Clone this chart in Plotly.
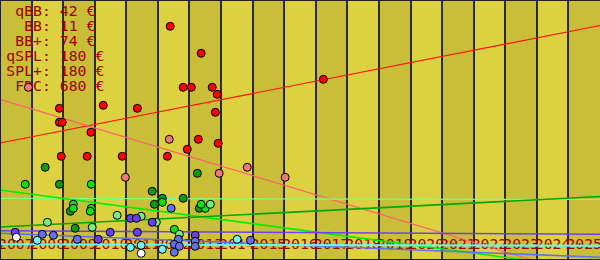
import plotly.graph_objects as go

# ---------------- data ----------------
years = list(range(2007, 2026))

legend_names = ["qBB", "BB", "BB+", "qSPL", "SPL+", "FDC"]
legend_prices = [42, 11, 74, 180, 180, 680]

red_x = [2012.39, 2013.37, 2012.80, 2013.06, 2013.72, 2013.88, 2017.24, 2008.88, 2010.27, 2011.35,
         2008.88, 2008.97, 2009.88, 2013.28, 2008.94, 2009.76, 2010.87, 2012.30, 2012.93, 2013.82, 2013.91]
red_y = [23.37, 20.67, 17.27, 17.27, 17.27, 16.57, 18.07, 15.17, 15.47, 15.17,
         13.77, 13.77, 12.77, 12.07, 10.37, 10.37, 10.37, 10.37, 11.07, 14.77, 11.67]

pink_x = [2012.36, 2010.97, 2013.94, 2014.83, 2016.03, 2007.90]
pink_y = [12.07, 8.27, 8.67, 9.27, 8.27, 17.27]

dkgreen_x = [2008.43, 2013.25, 2008.88, 2011.82, 2012.80, 2012.14, 2011.89, 2013.31, 2009.23, 2009.38]
dkgreen_y = [9.27, 8.67, 7.57, 6.87, 6.17, 6.17, 5.57, 5.17, 4.87, 3.17]

lime_x = [2007.80, 2009.89, 2009.32, 2009.32, 2009.89, 2009.86, 2012.14, 2013.50, 2013.37, 2012.52]
lime_y = [7.57, 7.57, 5.57, 5.17, 5.17, 4.87, 5.77, 5.17, 5.57, 3.07]

ltgreen_x = [2010.71, 2011.47, 2011.95, 2008.50, 2009.92, 2012.68, 2013.66]
ltgreen_y = [4.47, 4.37, 3.77, 3.77, 3.27, 2.57, 5.57]

violet_x = [2007.48, 2010.11, 2010.49, 2011.13, 2011.32, 2011.35, 2011.82, 2013.18]
violet_y = [2.77, 2.07, 2.77, 4.17, 4.17, 2.77, 3.77, 2.47]

slate_x = [2008.34, 2008.69, 2009.45, 2012.42, 2012.65, 2012.52, 2012.68, 2013.18, 2013.18, 2012.52, 2014.93]
slate_y = [2.57, 2.47, 2.07, 5.17, 2.07, 1.57, 1.37, 1.87, 1.37, 0.77, 1.97]

cyan_x = [2008.18, 2011.13, 2011.47, 2012.14, 2014.51]
cyan_y = [1.97, 1.27, 1.47, 1.07, 2.07]

white_x = [2007.52, 2011.47]
white_y = [2.27, 0.67]

# trend lines: values at start (2007) and end (2026)
trend_x = [2007, 2026]
trend_red = [11.70, 23.45]
trend_salmon = [16.07, -2.05]
trend_ltgreen = [6.17, 6.05]
trend_lime = [7.00, -1.00]
trend_dkgreen = [3.30, 6.35]
trend_violet = [2.93, 2.57]
trend_slate = [2.67, 0.27]
trend_cyan = [1.57, 1.42]

# ---------------- styles ----------------
TXT = "#a00000"
FONT = "DejaVu Sans Mono"
FS = 14.8
BAND_DARK = "#c9be37"
BAND_LIGHT = "#dcd23f"

fig = go.Figure()

# legend text (drawn first so that marks sit on top)
label_w = max(len(n) for n in legend_names) + 1
legend_txt = [("\u00a0" * (label_w - len(n) - 1)) + n + ":\u00a0" + str(p) + "\u00a0€"
              for n, p in zip(legend_names, legend_prices)]
fig.add_trace(go.Scatter(
    x=[2007.20] * len(legend_txt),
    y=[24.75 - 1.5 * i for i in range(len(legend_txt))],
    mode="text", text=legend_txt, textposition="middle right",
    textfont=dict(family=FONT, size=FS, color=TXT),
    hoverinfo="skip", showlegend=False, cliponaxis=False))

# year labels
fig.add_trace(go.Scatter(
    x=[y + 0.5 for y in years], y=[1.42] * len(years),
    mode="text", text=[str(y) for y in years], textposition="middle center",
    textfont=dict(family=FONT, size=FS, color=TXT),
    hoverinfo="skip", showlegend=False, cliponaxis=False))

# trend lines
for vals, col, w in [(trend_red, "#ff1010", 1.2), (trend_salmon, "#ff6070", 1.2),
                     (trend_ltgreen, "#80ff80", 1.2), (trend_lime, "#00ee00", 1.6),
                     (trend_dkgreen, "#00a800", 1.6), (trend_violet, "#7040f0", 1.6),
                     (trend_slate, "#6070f0", 1.6), (trend_cyan, "#60ffff", 2)]:
    fig.add_trace(go.Scatter(x=trend_x, y=vals, mode="lines",
                             line=dict(color=col, width=w),
                             hoverinfo="skip", showlegend=False))

# points
for xs, ys, col in [(red_x, red_y, "#ff0000"), (pink_x, pink_y, "#f07878"),
                    (dkgreen_x, dkgreen_y, "#119911"), (lime_x, lime_y, "#11e011"),
                    (ltgreen_x, ltgreen_y, "#77ee77"), (violet_x, violet_y, "#6a40e8"),
                    (slate_x, slate_y, "#6670e6"), (cyan_x, cyan_y, "#77f0f0"),
                    (white_x, white_y, "#ffffff")]:
    fig.add_trace(go.Scatter(x=xs, y=ys, mode="markers",
                             marker=dict(color=col, size=8, line=dict(color="#000000", width=1)),
                             showlegend=False))

# year bands
shapes = []
for i, y in enumerate(years):
    shapes.append(dict(type="rect", xref="x", yref="paper", x0=y, x1=y + 1, y0=0, y1=1,
                       fillcolor=BAND_DARK if i % 2 == 0 else BAND_LIGHT,
                       line=dict(width=0), layer="below"))
# frame
for x0, x1, y0, y1 in [(0, 0, 0, 1), (0, 1, 0, 0), (0, 1, 1, 1)]:
    shapes.append(dict(type="line", xref="paper", yref="paper", x0=x0, x1=x1, y0=y0, y1=y1,
                       line=dict(color="#222222", width=2), layer="above"))

fig.update_layout(
    width=600, height=260, margin=dict(l=0, r=0, t=0, b=0),
    paper_bgcolor=BAND_LIGHT, plot_bgcolor=BAND_LIGHT,
    shapes=shapes,
    xaxis=dict(range=[2007, 2026], tick0=2007, dtick=1, showgrid=True,
               gridcolor="#2a2a38", gridwidth=1.5, showticklabels=False,
               zeroline=False, ticks="", showline=False, fixedrange=True),
    yaxis=dict(range=[0, 26], showgrid=False, zeroline=False, showticklabels=False,
               ticks="", showline=False, fixedrange=True),
)

fig.write_html("out.html")
